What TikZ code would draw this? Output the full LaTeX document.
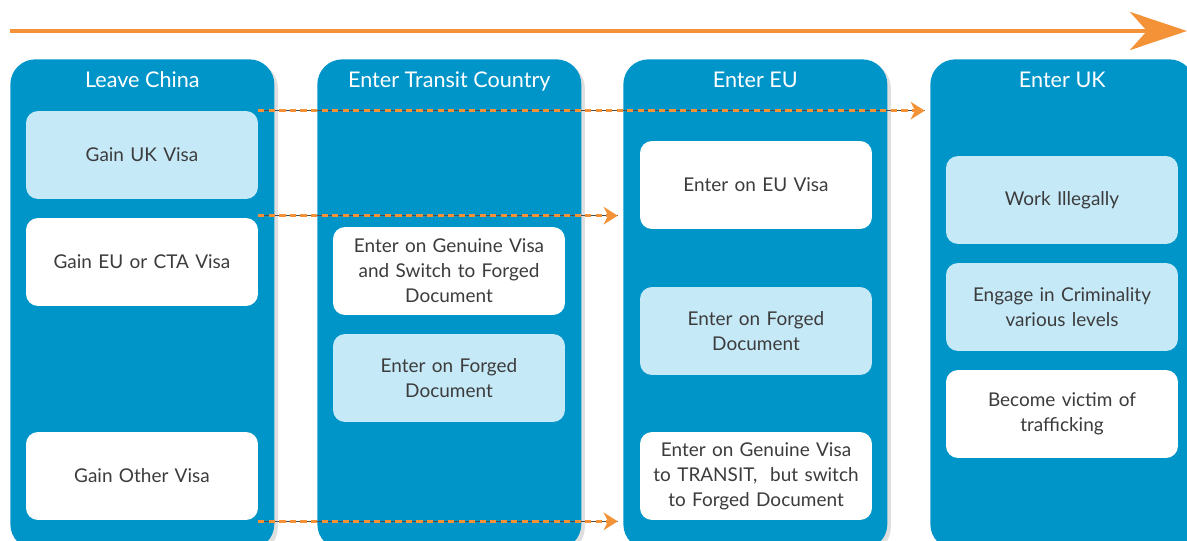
\documentclass[tikz,border=0pt]{standalone}
\usepackage{fontspec}
\setmainfont{Lato}
\usetikzlibrary{arrows.meta}
\usetikzlibrary{shadows}
\usetikzlibrary{positioning}
\definecolor{colblue}{RGB}{0,149,200}
\definecolor{paleblue}{RGB}{198,233,248}
\definecolor{routeorange}{RGB}{243,146,55}
\definecolor{boxtext}{RGB}{60,60,60}
\tikzset{
    stage/.style={fill=colblue, rounded corners=0.5cm, anchor=north west, minimum width=5.28cm, minimum height=9.8cm,
        drop shadow={opacity=0.25, shadow xshift=2pt, shadow yshift=-2pt}},
    head/.style={text=white, anchor=base, font=\fontsize{12.3}{14}\selectfont},
    whitebox/.style={fill=white, rounded corners=0.24cm, minimum width=4.64cm, minimum height=1.76cm, align=center,
        text width=4.4cm, text=boxtext, font=\fontsize{10.8}{14.2}\selectfont},
    palebox/.style={whitebox, fill=paleblue},
    route/.style={draw=routeorange, line width=1.4pt, dash pattern=on 3.5pt off 2.5pt, shorten >=3pt,
        -{Stealth[length=8pt,width=10pt,inset=2.5pt]},
        preaction={draw=black!70, line width=0.5pt, solid, -}}
}
\begin{document}
\begin{tikzpicture}[x=0.02cm, y=-0.02cm]
\useasboundingbox (0,0) rectangle (1187,541);
\clip (0,0) rectangle (1187,541);
% timeline
\coordinate (tstart) at (10,31);
\coordinate (tend) at (1187,31);
\draw[routeorange, line width=2.8pt, drop shadow={opacity=0.2, shadow xshift=1pt, shadow yshift=-2pt},
    -{Stealth[length=1.14cm,width=0.76cm,inset=0.34cm]}] (tstart) -- (tend);
% columns
\foreach \x/\n/\t in {10/c1/{Leave China}, 317/c2/{Enter Transit Country}, 623/c3/{Enter EU}, 930/c4/{Enter UK}}{
\node[stage] (\n) at (\x,59) {};
\node[head] at ([yshift=-0.58cm]\n.north) {\t};
}
% boxes
\node[palebox] (ukvisa) at (142,155) {Gain UK Visa};
\node[whitebox] (euvisa) at (142,262) {Gain EU or CTA Visa};
\node[whitebox] (othervisa) at (142,476) {Gain Other Visa};
\node[whitebox] (genuine) at (449,271) {Enter on Genuine Visa\\and Switch to Forged\\Document};
\node[palebox] (forgedtc) at (449,378) {Enter on Forged\\Document};
\node[whitebox] (euentry) at (756,185) {Enter on EU Visa};
\node[palebox] (forgedeu) at (756,331) {Enter on Forged\\Document};
\node[whitebox] (transit) at (756,476) {Enter on Genuine Visa\\to TRANSIT,\ \ but switch\\to Forged Document};
\node[palebox] (work) at (1062,200) {Work Illegally};
\node[palebox] (crime) at (1062,307) {Engage in Criminality\\various levels};
\node[whitebox] (victim) at (1062,414) {Become victim of\\trafficking};
% routes
\coordinate (r1) at (ukvisa.north east);
\coordinate (r2) at ([yshift=0.04cm]euvisa.north east);
\coordinate (r3) at ([yshift=-0.02cm]othervisa.south east);
\draw[route] (r1) -- (c4.west |- r1);
\draw[route] (r2) -- (c3.west |- r2);
\draw[route] (r3) -- (c3.west |- r3);
\end{tikzpicture}
\end{document}
